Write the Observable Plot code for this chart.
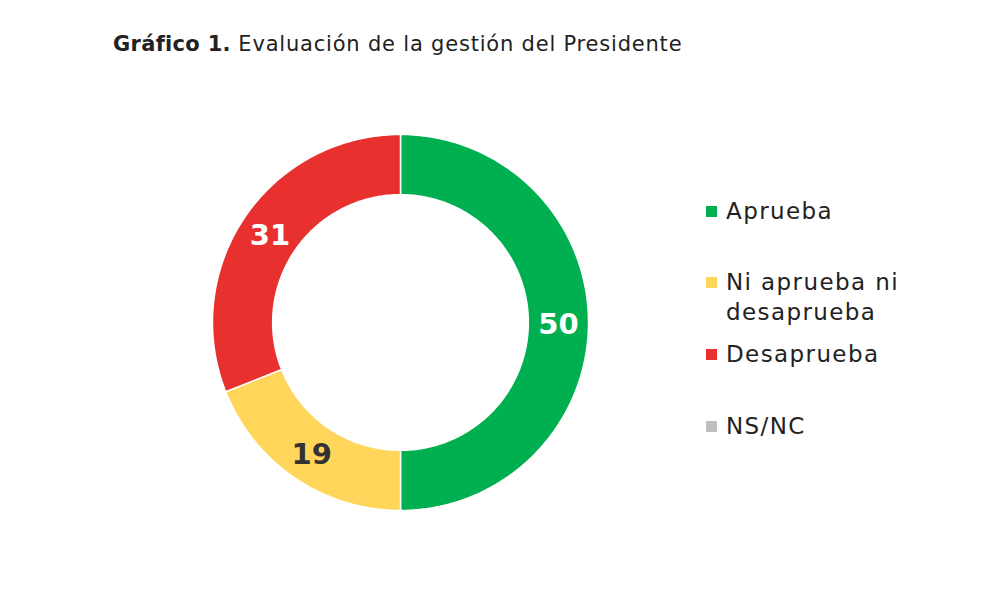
<!DOCTYPE html>
<html><head><meta charset="utf-8">
<script src="https://cdn.jsdelivr.net/npm/d3@7"></script>
<script src="https://cdn.jsdelivr.net/npm/@observablehq/plot@0.6"></script>
<style>
body{margin:0;background:#fff;font-family:"DejaVu Sans",sans-serif;}
#wrap{position:relative;width:1000px;height:603px;overflow:hidden;}
#title{position:absolute;left:113px;top:32px;font-size:21px;letter-spacing:0.8px;color:#222;white-space:nowrap;}
#title b{font-weight:bold;letter-spacing:0.3px;}
#legend{position:absolute;left:706px;top:0;font-size:23px;letter-spacing:1.4px;color:#222;}
.item{position:absolute;display:flex;align-items:flex-start;white-space:nowrap;line-height:30px;}
.sw{width:11px;height:11px;margin-top:10px;margin-right:9px;flex:none;}
</style></head>
<body><div id="wrap"><div id="chart"></div><div id="title"><b>Gráfico 1.</b> Evaluación de la gestión del Presidente</div><div id="legend"></div></div>
<script>
const categories = ["Aprueba","Ni aprueba ni desaprueba","Desaprueba","NS/NC"];
const values = [50,19,31,0];
const colors = ["#00B050","#FFD55A","#E8312F","#BFBFBF"];
const legendLines = [["Aprueba"],["Ni aprueba ni","desaprueba"],["Desaprueba"],["NS/NC"]];

const data = categories.map((c,i)=>({cat:c,value:values[i]}));
const arcs = d3.pie().sort(null).value(d=>d.value)(data).filter(a=>a.value>0);
const R0 = 0.68, R1 = 1;
const pts = [];
for (const a of arcs) {
  const n = Math.max(2, Math.ceil((a.endAngle-a.startAngle)*180/Math.PI));
  const outer = d3.range(n+1).map(k=>a.startAngle+(a.endAngle-a.startAngle)*k/n);
  for (const t of outer) pts.push({cat:a.data.cat,x:R1*Math.sin(t),y:R1*Math.cos(t)});
  for (const t of outer.slice().reverse()) pts.push({cat:a.data.cat,x:R0*Math.sin(t),y:R0*Math.cos(t)});
}
const rl = (R0+R1)/2;
const labels = arcs.map(a=>{const m=(a.startAngle+a.endAngle)/2;return {cat:a.data.cat,text:String(a.value),x:rl*Math.sin(m),y:rl*Math.cos(m)};});

const chart = Plot.plot({
  width:1000,height:603,margin:0,
  x:{domain:[-1,1],range:[212,588],axis:null},
  y:{domain:[-1,1],range:[510,134],axis:null},
  color:{domain:categories,range:colors},
  style:{fontFamily:"'DejaVu Sans',sans-serif",background:"transparent"},
  marks:[
    Plot.line(pts,{x:"x",y:"y",z:"cat",fill:"cat",stroke:"white",strokeWidth:1.5,curve:"linear-closed"}),
    Plot.text(labels.filter(d=>d.cat!=="Ni aprueba ni desaprueba"),{x:"x",y:"y",text:"text",fill:"white",fontSize:29,fontWeight:"bold",dy:2}),
    Plot.text(labels.filter(d=>d.cat==="Ni aprueba ni desaprueba"),{x:"x",y:"y",text:"text",fill:"#333",fontSize:29,fontWeight:"bold",dy:2})
  ]
});
document.getElementById("chart").appendChild(chart);

const tops = [196,267,339,411];
const lg = document.getElementById("legend");
categories.forEach((c,i)=>{
  const it=document.createElement("div");it.className="item";it.style.top=tops[i]+"px";
  const sw=document.createElement("div");sw.className="sw";sw.style.background=colors[i];
  const tx=document.createElement("div");tx.innerHTML=legendLines[i].join("<br>");
  it.appendChild(sw);it.appendChild(tx);lg.appendChild(it);
});
</script></body></html>
